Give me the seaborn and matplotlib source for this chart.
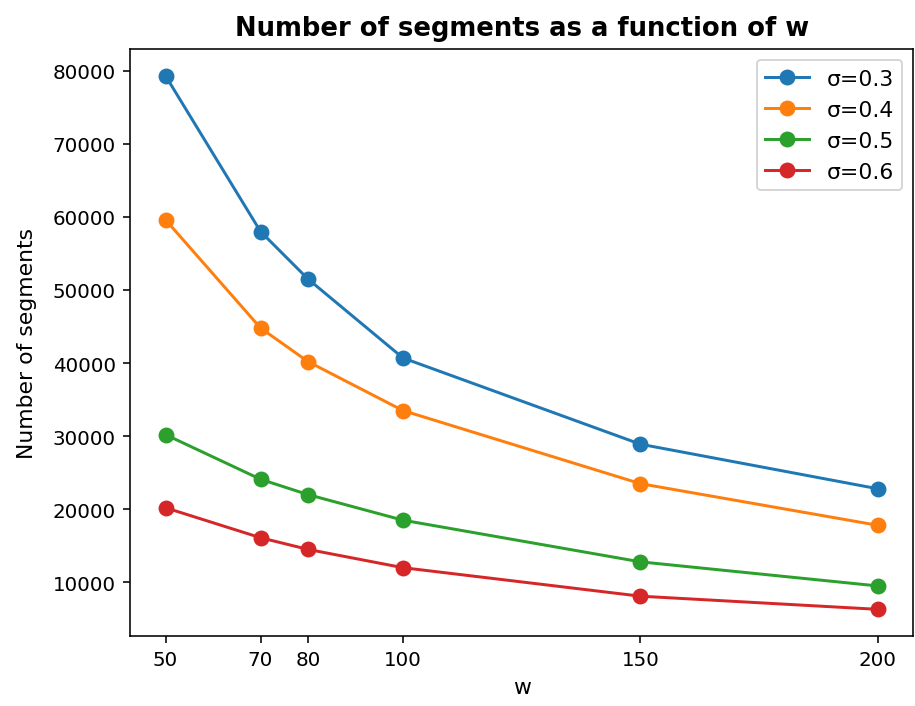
import matplotlib
matplotlib.use("Agg")
import matplotlib.pyplot as plt
import seaborn as sns
import pandas as pd

w_values = [50, 70, 80, 100, 150, 200]
sigma_labels = ["σ=0.3", "σ=0.4", "σ=0.5", "σ=0.6"]
seg_s03 = [79300, 58000, 51500, 40700, 28900, 22800]
seg_s04 = [59600, 44800, 40200, 33500, 23500, 17800]
seg_s05 = [30200, 24100, 22000, 18500, 12800, 9500]
seg_s06 = [20200, 16100, 14500, 12000, 8100, 6300]

series = [seg_s03, seg_s04, seg_s05, seg_s06]
rows = []
for lab, vals in zip(sigma_labels, series):
    for w, v in zip(w_values, vals):
        rows.append({"w": w, "segments": v, "sigma": lab})
df = pd.DataFrame(rows)

fig = plt.figure(figsize=(6.4, 4.944), dpi=143)
ax = fig.add_axes([0.142, 0.099, 0.856, 0.830])
colors = ["#1f77b4", "#ff7f0e", "#2ca02c", "#d62728"]
sns.lineplot(data=df, x="w", y="segments", hue="sigma", hue_order=sigma_labels,
             palette=colors, marker="o", markersize=7, linewidth=1.5,
             legend=False, ax=ax)
for line in ax.lines:
    line.set_markeredgecolor(line.get_color())
    line.set_markeredgewidth(1.0)

ax.legend(ax.lines[:4], sigma_labels, loc="upper right", fontsize=11)
ax.set_xticks(w_values)
ax.set_xticklabels([str(w) for w in w_values])
ax.tick_params(labelsize=10)
ax.set_title("Number of segments as a function of w", fontsize=13, fontweight="bold", pad=7)
ax.set_xlabel("w", fontsize=11)
ax.set_ylabel("Number of segments", fontsize=11, labelpad=8)

fig.savefig("out.png", dpi=143)
